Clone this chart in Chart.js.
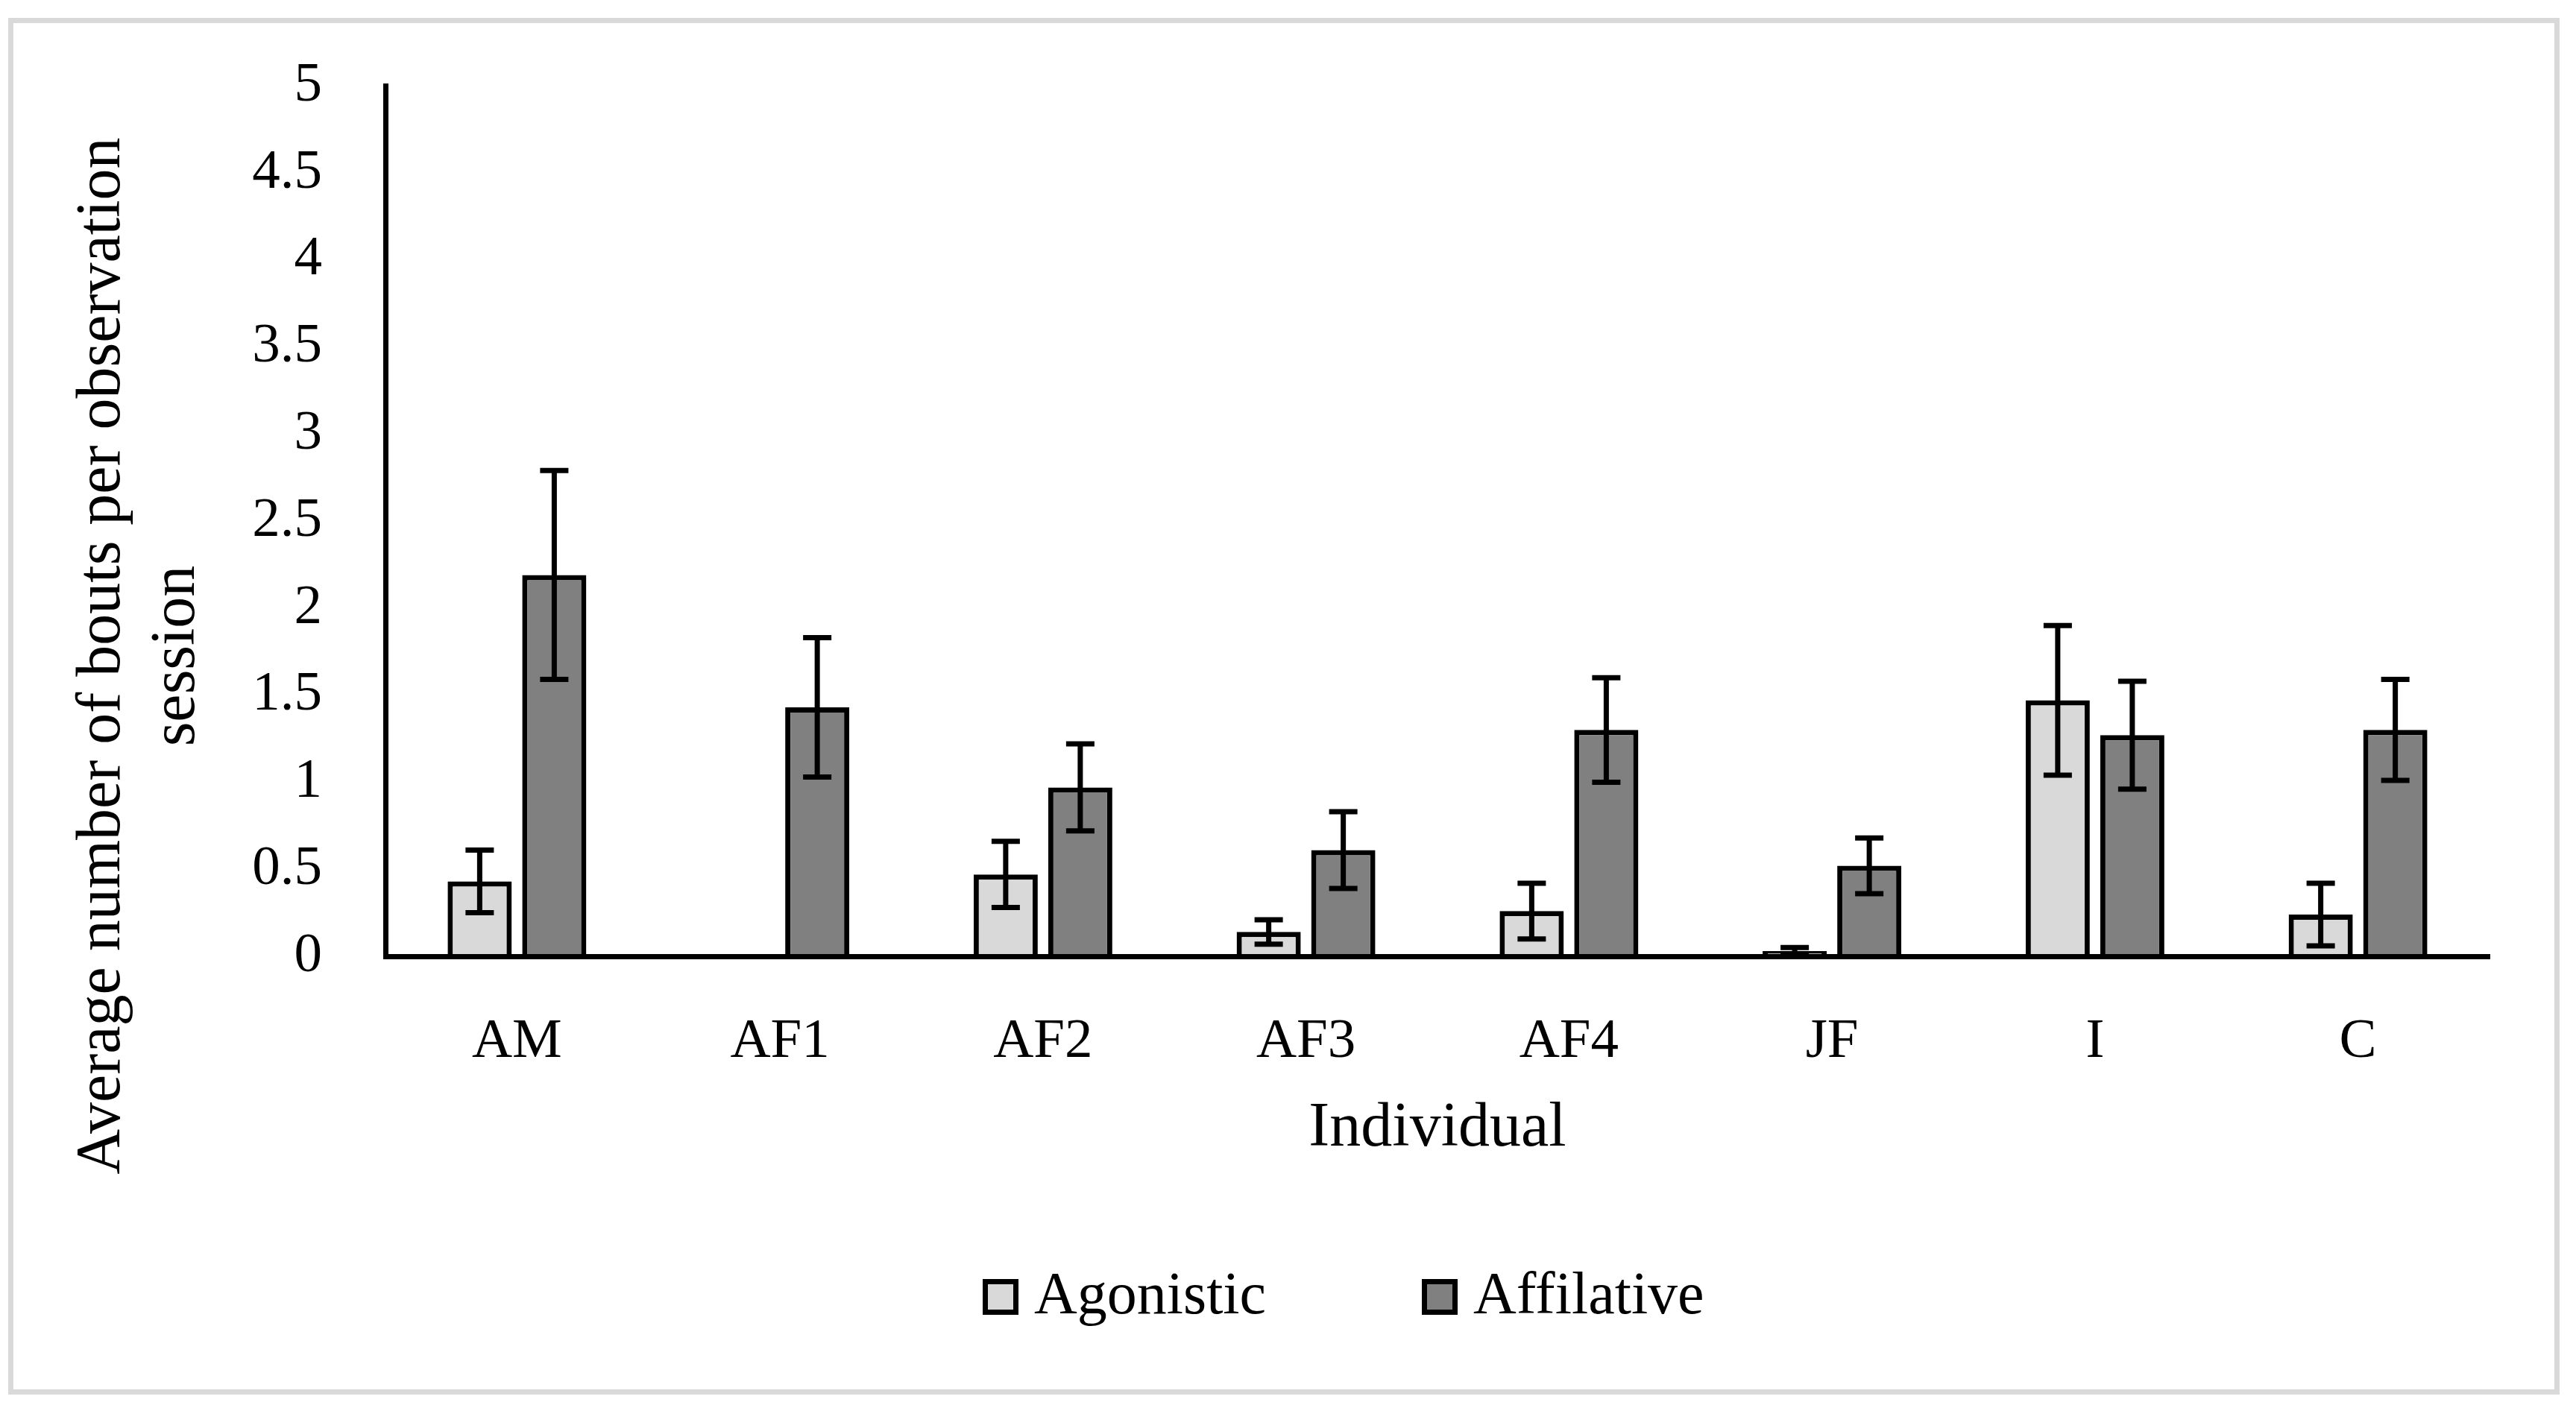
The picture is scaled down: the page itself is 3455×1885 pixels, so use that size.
<!DOCTYPE html>
<html>
<head>
<meta charset="utf-8">
<title>Agonistic vs affilative bouts</title>
<script src="https://cdn.jsdelivr.net/npm/chart.js@4.4.1/dist/chart.umd.min.js"></script>
<style>
  html, body { margin:0; padding:0; background:#fff; overflow:hidden; }
  #frame { position:absolute; left:11px; top:24px; width:3422px; height:1847px; box-sizing:border-box; border:7px solid #d9d9d9; pointer-events:none; }
  #c { position:absolute; left:0; top:0; width:3455px; height:1885px; }
  #legend { position:absolute; left:1318px; top:1690px; height:100px; display:flex; align-items:center; font:80px 'Liberation Serif', serif; color:#000; }
  #legend .item { display:flex; align-items:center; margin-right:209px; }
  #legend .item:last-child { margin-right:0; }
  #legend .box { width:48px; height:48px; box-sizing:border-box; border:7px solid #000; margin-right:21px; }
  #legend .txt { position:relative; top:-5px; line-height:1; }
</style>
</head>
<body>
<div id="frame"></div>
<canvas id="c" width="3455" height="1885"></canvas>
<div id="legend"></div>
<script>
// Promedio de episodios por sesión de observación, por individuo
const individuals   = ['AM', 'AF1', 'AF2', 'AF3', 'AF4', 'JF', 'I', 'C'];
const agonisticMean = [0.43, 0,    0.47, 0.14, 0.26, 0.03, 1.47, 0.24];
const agonisticErr  = [0.18, 0,    0.19, 0.07, 0.16, 0.02, 0.43, 0.18];
const affilMean     = [2.19, 1.43, 0.97, 0.61, 1.30, 0.52, 1.27, 1.30];
const affilErr      = [0.60, 0.40, 0.25, 0.22, 0.30, 0.16, 0.31, 0.29];
const yTickLabels   = ['0', '0.5', '1', '1.5', '2', '2.5', '3', '3.5', '4', '4.5', '5'];
const yTitleLines   = ['Average number of bouts per observation', 'session'];

const FONT = "'Liberation Serif', serif";

// barras de error (media ± error)
const errorBars = {
  id: 'errorBars',
  afterDatasetsDraw(chart) {
    const { ctx } = chart; const y = chart.scales.y;
    ctx.save();
    ctx.strokeStyle = '#000'; ctx.lineWidth = 7; ctx.lineCap = 'butt';
    chart.data.datasets.forEach((ds, i) => {
      chart.getDatasetMeta(i).data.forEach((bar, j) => {
        const e = ds.errors[j]; if (!e) return;
        const top = y.getPixelForValue(ds.data[j] + e);
        const bot = y.getPixelForValue(ds.data[j] - e);
        ctx.beginPath();
        ctx.moveTo(bar.x, top); ctx.lineTo(bar.x, bot);
        ctx.moveTo(bar.x - 19, top); ctx.lineTo(bar.x + 19, top);
        ctx.moveTo(bar.x - 19, bot); ctx.lineTo(bar.x + 19, bot);
        ctx.stroke();
      });
    });
    ctx.restore();
  }
};

// título del eje Y en dos líneas, centrado como en el original
const yTitle = {
  id: 'yTitle',
  afterDraw(chart, args, opts) {
    const { ctx } = chart;
    ctx.save();
    ctx.font = opts.font; ctx.fillStyle = '#000';
    ctx.textAlign = 'center'; ctx.textBaseline = 'alphabetic';
    ctx.translate(0, opts.centerY);
    ctx.rotate(-Math.PI / 2);
    opts.lines.forEach((t, k) => ctx.fillText(t, 0, opts.baselines[k]));
    ctx.restore();
  }
};

const chart = new Chart(document.getElementById('c'), {
  type: 'bar',
  data: {
    labels: individuals,
    datasets: [
      { label: 'Agonistic',  data: agonisticMean, errors: agonisticErr, backgroundColor: '#d9d9d9', borderColor: '#000', borderWidth: 7 },
      { label: 'Affilative', data: affilMean,     errors: affilErr,     backgroundColor: '#808080', borderColor: '#000', borderWidth: 7 }
    ]
  },
  options: {
    responsive: false,
    animation: false,
    devicePixelRatio: 1,
    categoryPercentage: 0.567,
    barPercentage: 0.86,
    layout: { padding: { top: 115, right: 116, bottom: 320, left: 0 } },
    plugins: {
      legend: { display: false },
      tooltip: { enabled: false },
      yTitle: { lines: yTitleLines, font: '84px ' + FONT, centerY: 880, baselines: [160, 260] }
    },
    scales: {
      x: {
        grid: { display: false },
        border: { display: true, color: '#000', width: 7, z: 1 },
        ticks: { color: '#000', font: { family: FONT, size: 75 }, padding: 62, maxRotation: 0, autoSkip: false },
        title: { display: true, text: 'Individual', color: '#000', font: { family: FONT, size: 84 }, padding: { top: 0, bottom: 0 } },
        afterFit: s => { s.height = 282; }
      },
      y: {
        min: 0, max: 5,
        grid: { display: false },
        border: { display: true, color: '#000', width: 7 },
        ticks: { stepSize: 0.5, color: '#000', font: { family: FONT, size: 75 }, padding: 77,
                 callback: (v, i) => yTickLabels[i] },
        // el padding de las etiquetas no debe empujar el área del gráfico
        afterFit: s => { s.width = 517; s.paddingTop = 0; s.paddingBottom = 0; }
      }
    }
  },
  plugins: [errorBars, yTitle]
});

// leyenda en HTML con los colores de cada serie
document.getElementById('legend').innerHTML = chart.data.datasets.map(d =>
  `<div class="item"><span class="box" style="background:${d.backgroundColor}"></span><span class="txt">${d.label}</span></div>`
).join('');
</script>
</body>
</html>
